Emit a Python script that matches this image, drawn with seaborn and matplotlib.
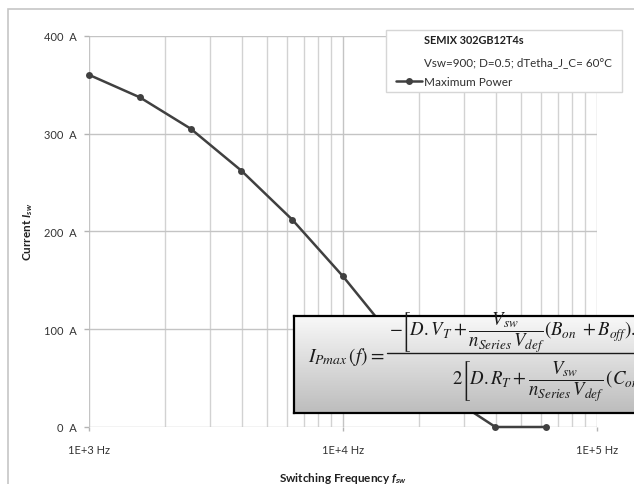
import numpy as np
import pandas as pd
import seaborn as sns
import matplotlib.pyplot as plt
from matplotlib.patches import Rectangle
from matplotlib.lines import Line2D
from matplotlib.colors import LinearSegmentedColormap
from matplotlib.ticker import FixedLocator, LogLocator, NullFormatter

# values
freq_hz = [1000, 1585, 2512, 3981, 6310, 10000, 15849, 25119, 39811, 63096]
current_a = [360, 337, 305, 262, 212, 154, 90, 34, 0, 0]
series_name = "Maximum Power"

y_ticks = [0, 100, 200, 300, 400]
y_tick_labels = ["0  A", "100  A", "200  A", "300  A", "400  A"]
x_ticks = [1e3, 1e4, 1e5]
x_tick_labels = ["1E+3 Hz", "1E+4 Hz", "1E+5 Hz"]

box_title = "SEMIX 302GB12T4s"
box_subtitle = "Vsw=900; D=0.5; dTetha_J_C= 60°C"

sns.set_style("white")
plt.rcParams['font.family'] = ['Lato', 'DejaVu Sans']
plt.rcParams['mathtext.fontset'] = 'custom'
plt.rcParams['mathtext.rm'] = 'Lato'
plt.rcParams['mathtext.it'] = 'Lato:italic'
plt.rcParams['mathtext.bf'] = 'Lato:bold'
plt.rcParams['mathtext.bfit'] = 'Lato:bold:italic'

W, H = 634, 485
fig = plt.figure(figsize=(W / 100, H / 100), dpi=100)


def fx(px):
    return px / W


def fy(py):
    return 1 - py / H


ax = fig.add_axes([fx(89), fy(428), fx(597) - fx(89), fy(36.7) - fy(428)])

df = pd.DataFrame({"freq": freq_hz, "current": current_a})
sns.lineplot(data=df, x="freq", y="current", label=series_name, color="#404040",
             marker="o", markersize=5, markeredgewidth=0, linewidth=1.8,
             ax=ax, clip_on=False, zorder=3)

ax.set_xscale("log")
ax.set_xlim(1e3, 1e5)
ax.set_ylim(0, 400)
ax.xaxis.set_major_locator(FixedLocator(x_ticks))
ax.set_xticklabels(x_tick_labels)
ax.xaxis.set_minor_locator(LogLocator(base=10, subs=np.arange(2, 10)))
ax.xaxis.set_minor_formatter(NullFormatter())
ax.set_yticks(y_ticks)
ax.set_yticklabels(y_tick_labels)

ax.set_axisbelow(True)
ax.grid(which="major", axis="both", color="#c4c4c4", linewidth=1)
ax.grid(which="minor", axis="x", color="#d2d2d2", linewidth=1)
for s in ax.spines.values():
    s.set_visible(False)

ax.tick_params(axis="y", which="major", left=True, length=3.6, width=1,
               color="#b4b4b4", pad=5, labelsize=8, labelcolor="#333333")
ax.tick_params(axis="x", which="major", bottom=True, length=2.9, width=1,
               color="#b4b4b4", pad=9.4, labelsize=8, labelcolor="#333333")
ax.tick_params(axis="x", which="minor", bottom=False, length=0)

ax.set_xlabel(r"Switching Frequency $\mathbfit{f}_{\mathbfit{sw}}$", fontsize=8.5,
              weight="bold", color="#202020")
ax.set_ylabel(r"Current $\mathbfit{I}_{\mathbfit{sw}}$", fontsize=8.5,
              weight="bold", color="#202020")
ax.xaxis.set_label_coords(0.5, (428 - 471) / 391.3)
ax.yaxis.set_label_coords((35 - 89) / 508, 0.5)

# legend box with title lines
ax.add_patch(Rectangle((fx(386), fy(93)), fx(622) - fx(386), fy(31) - fy(93),
                       transform=fig.transFigure, facecolor="white",
                       edgecolor="#d6d6d6", linewidth=1, zorder=4, clip_on=False))
leg = ax.legend(loc="center left", bbox_to_anchor=(fx(396), fy(83)),
                bbox_transform=fig.transFigure, frameon=False, fontsize=8.5,
                handlelength=2.2, handletextpad=0.2, borderpad=0, borderaxespad=0,
                labelcolor="#303030")
leg.set_zorder(6)
ax.text(fx(424), fy(41), box_title, transform=fig.transFigure, fontsize=7.8,
        weight="bold", va="center", color="#202020", zorder=6)
ax.text(fx(424), fy(62.5), box_subtitle, transform=fig.transFigure, fontsize=8.4,
        va="center", color="#303030", zorder=6)

# formula box
box_ax = fig.add_axes([fx(294), fy(414), fx(720) - fx(294), fy(317) - fy(414)], zorder=5)
grad = np.linspace(0, 1, 100).reshape(-1, 1)
box_ax.imshow(grad, aspect="auto", extent=[0, 1, 0, 1],
              cmap=LinearSegmentedColormap.from_list("g", ["#f8f8f8", "#bdbdbd"]))
box_ax.set_xticks([])
box_ax.set_yticks([])
for s in box_ax.spines.values():
    s.set_color("black")
    s.set_linewidth(1.6)

eq_kw = dict(transform=fig.transFigure, math_fontfamily="stix", fontsize=14,
             color="#1a1a1a", va="center", ha="left")
box_ax.text(fx(308), fy(357), r"$I_{Pmax}\,(f) =$", **eq_kw)
box_ax.add_line(Line2D([fx(387), fx(660)], [fy(354), fy(354)], transform=fig.transFigure,
                       color="#1a1a1a", linewidth=1, clip_on=False))
frac_kw = dict(eq_kw, fontsize=13.5)
box_ax.text(fx(389), fy(333),
            r"$-\left[D.V_T+\dfrac{V_{sw}}{n_{Series}\,V_{def}}(B_{on}\;+B_{off}).f\right]$",
            **frac_kw)
box_ax.text(fx(452), fy(382),
            r"$2\left[D.R_T+\dfrac{V_{sw}}{n_{Series}\,V_{def}}\,(C_{on}\;+C_{off}).f\right]$",
            **frac_kw)

# outer chart border
fig.add_artist(Rectangle((fx(8), fy(520)), 1.2, fy(10) - fy(520), transform=fig.transFigure,
                         fill=False, edgecolor="#c6c6c6", linewidth=1.2))

fig.savefig("out.png", dpi=100)
